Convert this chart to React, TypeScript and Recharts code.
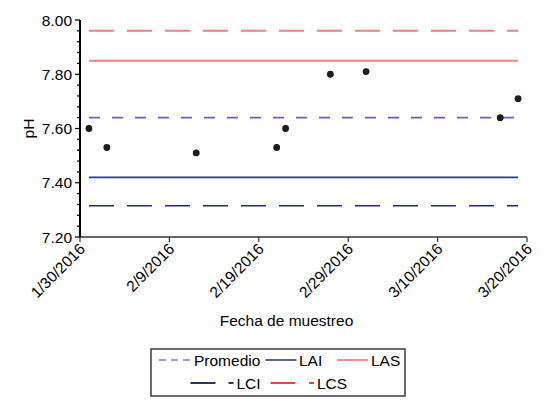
import React from 'react';
import { ComposedChart, Line, Scatter, XAxis, YAxis } from 'recharts';

const START_DATE = '2016-01-30';
const sampleDates = [
  '2016-01-31', '2016-02-02', '2016-02-12', '2016-02-21', '2016-02-22',
  '2016-02-27', '2016-03-02', '2016-03-17', '2016-03-19',
];
const phValues = [7.6, 7.53, 7.51, 7.53, 7.6, 7.8, 7.81, 7.64, 7.71];

const xTickDates = ['2016-01-30', '2016-02-09', '2016-02-19', '2016-02-29', '2016-03-10', '2016-03-20'];
const xDomainDates = ['2016-01-30', '2016-03-20'];
const yDomain = [7.2, 8.0];
const yTicks = [
  7.2, 7.24, 7.28, 7.32, 7.36, 7.4, 7.44, 7.48, 7.52, 7.56, 7.6,
  7.64, 7.68, 7.72, 7.76, 7.8, 7.84, 7.88, 7.92, 7.96, 8.0,
];
const yMajorTicks = [7.2, 7.4, 7.6, 7.8, 8.0];

const limitNames = ['Promedio', 'LAI', 'LAS', 'LCI', 'LCS'];
const limitValues = [7.64, 7.42, 7.85, 7.315, 7.96];
const limitColors = ['#7657c2', '#2a3a9e', '#f07f7f', '#1c2a7a', '#f08080'];
const limitDashes = ['11 12', undefined, undefined, '25 13', '25 13'];
const limitWidths = [1.8, 1.6, 2, 1.6, 2];

const FONT = '"Liberation Sans", Arial, sans-serif';
const FS = 15.5;

const dayOffset = (d: string) => (Date.parse(d) - Date.parse(START_DATE)) / 86400000;
const fmtDate = (off: number) => {
  const dt = new Date(Date.parse(START_DATE) + off * 86400000);
  return `${dt.getUTCMonth() + 1}/${dt.getUTCDate()}/${dt.getUTCFullYear()}`;
};

const sampleData = sampleDates.map((d, i) => ({ x: dayOffset(d), ph: phValues[i] }));
const firstX = Math.min(...sampleData.map((p) => p.x));
const lastX = Math.max(...sampleData.map((p) => p.x));
const limitData = limitValues.map((v) => [
  { x: firstX, v },
  { x: lastX, v },
]);

const XTick = (props: any) => {
  const { x, y, payload } = props;
  return (
    <g transform={`translate(${x + 6},${y + 8})`}>
      <text
        textAnchor="end"
        transform="rotate(-45)"
        fontFamily={FONT}
        fontSize={FS}
        fill="#000"
      >
        {fmtDate(payload.value)}
      </text>
    </g>
  );
};

const YTick = (props: any) => {
  const { x, y, payload } = props;
  const v = payload.value;
  const major = yMajorTicks.some((m) => Math.abs(m - v) < 1e-6);
  return (
    <g>
      <line x1={x} x2={x - (major ? 5 : 3)} y1={y} y2={y} stroke="#000" strokeWidth={1.2} />
      {major && (
        <text
          x={x - 8}
          y={y}
          dy="0.36em"
          textAnchor="end"
          fontFamily={FONT}
          fontSize={FS}
          fill="#000"
        >
          {v.toFixed(2)}
        </text>
      )}
    </g>
  );
};

const Dot = (props: any) => <circle cx={props.cx} cy={props.cy} r={3.4} fill="#1c1c1c" />;

const legendRows = [
  [
    { name: 'Promedio', color: '#a898d0', dash: '7 5', lx: 9, tx: 44, extra: false },
    { name: 'LAI', color: '#5a6090', dash: undefined, lx: 115.5, tx: 149, extra: false },
    { name: 'LAS', color: '#f09090', dash: undefined, lx: 187, tx: 221, extra: false },
  ],
  [
    { name: 'LCI', color: '#283070', dash: undefined, lx: 40.5, tx: 86.5, extra: true },
    { name: 'LCS', color: '#f04040', dash: undefined, lx: 120.5, tx: 167, extra: true },
  ],
];

const LegendBox = () => (
  <svg
    width={256}
    height={49}
    style={{ position: 'absolute', left: 150, top: 348 }}
  >
    <rect x={1} y={1} width={254} height={47} fill="#fff" stroke="#3a3a3a" strokeWidth={1.5} />
    {legendRows.map((row, ri) =>
      row.map((it) => {
        const cy = ri === 0 ? 12 : 35;
        return (
          <g key={it.name}>
            {it.extra ? (
              <>
                <line x1={it.lx} x2={it.lx + 25} y1={cy} y2={cy} stroke={it.color} strokeWidth={2} />
                <line x1={it.tx - 8} x2={it.tx - 3} y1={cy} y2={cy} stroke={it.color} strokeWidth={2} />
              </>
            ) : (
              <line
                x1={it.lx}
                x2={it.lx + 31}
                y1={cy}
                y2={cy}
                stroke={it.color}
                strokeWidth={2}
                strokeDasharray={it.dash}
              />
            )}
            <text x={it.tx} y={cy} dy="0.36em" fontFamily={FONT} fontSize={FS} fill="#000">
              {it.name}
            </text>
          </g>
        );
      })
    )}
  </svg>
);

export default function App() {
  return (
    <div style={{ position: 'absolute', left: 0, top: 0, width: 548, height: 406, background: '#fff' }}>
      <ComposedChart width={548} height={406} margin={{ top: 20, right: 21, bottom: 0, left: 0 }}>
        <XAxis
          type="number"
          dataKey="x"
          domain={xDomainDates.map(dayOffset)}
          ticks={xTickDates.map(dayOffset)}
          height={169}
          tick={<XTick />}
          tickSize={5}
          tickMargin={0}
          axisLine={{ stroke: '#333', strokeWidth: 1.5 }}
          tickLine={{ stroke: '#333', strokeWidth: 1.2 }}
          interval={0}
          label={{
            content: (p: any) => {
              const vb = p.viewBox;
              return (
                <text
                  x={vb.x + vb.width / 2 - 17}
                  y={vb.y + 83}
                  dy="0.36em"
                  textAnchor="middle"
                  fontFamily={FONT}
                  fontSize={FS}
                  fill="#000"
                >
                  Fecha de muestreo
                </text>
              );
            },
          }}
        />
        <YAxis
          type="number"
          domain={yDomain}
          ticks={yTicks}
          width={80}
          tick={<YTick />}
          tickLine={false}
          tickSize={0}
          tickMargin={0}
          interval={0}
          axisLine={{ stroke: '#000', strokeWidth: 2 }}
          label={{
            content: (p: any) => {
              const vb = p.viewBox;
              const cx = vb.x + 28;
              const cy = vb.y + vb.height / 2;
              return (
                <text
                  x={cx}
                  y={cy}
                  dy="0.36em"
                  textAnchor="middle"
                  transform={`rotate(-90 ${cx} ${cy})`}
                  fontFamily={FONT}
                  fontSize={FS}
                  fill="#000"
                >
                  pH
                </text>
              );
            },
          }}
        />
        {limitNames.map((name, i) => (
          <Line
            key={name}
            name={name}
            data={limitData[i]}
            dataKey="v"
            stroke={limitColors[i]}
            strokeWidth={limitWidths[i]}
            strokeDasharray={limitDashes[i]}
            dot={false}
            activeDot={false}
            isAnimationActive={false}
          />
        ))}
        <Scatter data={sampleData} dataKey="ph" shape={<Dot />} isAnimationActive={false} />
      </ComposedChart>
      <LegendBox />
    </div>
  );
}
